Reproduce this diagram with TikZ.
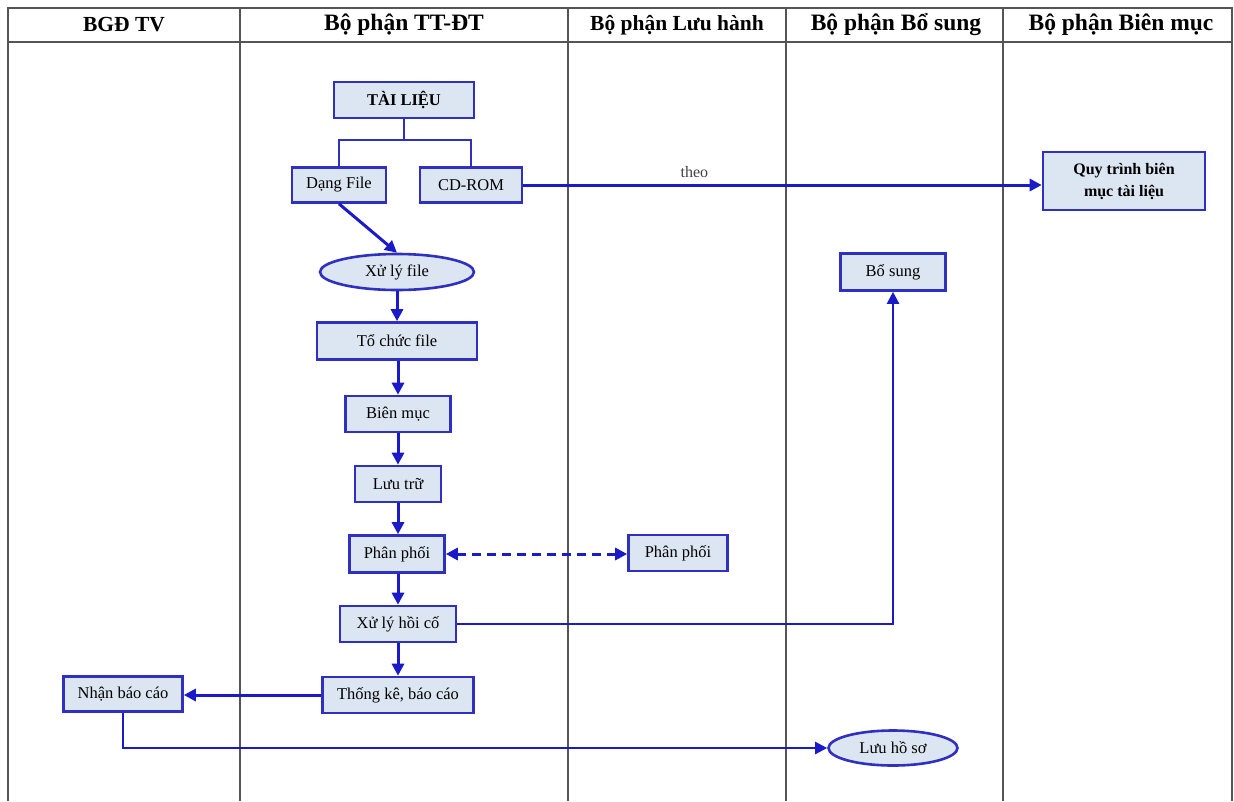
\documentclass[tikz,border=0pt]{standalone}
\usepackage{fontspec}
\setmainfont{Liberation Serif}
\usetikzlibrary{arrows.meta,shapes.geometric}
\definecolor{boxfill}{HTML}{DCE6F2}
\definecolor{boxline}{HTML}{3030C0}
\definecolor{arr}{HTML}{1A1AC8}
\definecolor{grid}{HTML}{555555}
\begin{document}
\begin{tikzpicture}[x=1pt,y=-1pt,
  pbox/.style={draw=boxline,line width=2.6pt,fill=boxfill,rectangle,inner sep=0pt,font=\fontsize{16.5}{19}\selectfont,align=center},
  pell/.style={draw=boxline,line width=2.6pt,fill=boxfill,ellipse,inner sep=0pt,font=\fontsize{16.5}{19}\selectfont},
  tip/.tip={Triangle[length=12pt,width=12pt]},
  flow/.style={draw=arr,line width=3pt,-tip},
  thin/.style={draw=boxline,line width=2pt},
  hdr/.style={font=\fontsize{23.5}{26}\selectfont\bfseries},
  gridline/.style={draw=grid,line width=2pt}]
\useasboundingbox (0,0) rectangle (1234,801);
% table
\draw[gridline] (8,801) -- (8,8) -- (1232,8) -- (1232,801);
\draw[gridline] (8,42) -- (1232,42);
\foreach \x in {240,568,786,1003} \draw[gridline] (\x,8) -- (\x,801);
\node[hdr,font=\fontsize{21.5}{24}\selectfont\bfseries] (h1) at (124,25) {BGĐ TV};
\node[hdr] (h2) at (404,25) {Bộ phận TT-ĐT};
\node[hdr,font=\fontsize{21.5}{24}\selectfont\bfseries] (h3) at (677,25) {Bộ phận Lưu hành};
\node[hdr] (h4) at (896,25) {Bộ phận Bổ sung};
\node[hdr] (h5) at (1121,25) {Bộ phận Biên mục};
% nodes
\node[pbox,minimum width=140pt,minimum height=36pt,font=\fontsize{16.5}{19}\selectfont\bfseries] (tl) at (404,100) {TÀI LIỆU};
\node[pbox,minimum width=94pt,minimum height=35pt] (df) at (339,185) {Dạng File};
\node[pbox,minimum width=102pt,minimum height=35pt] (cd) at (471,185) {CD-ROM};
\node[pbox,minimum width=162pt,minimum height=58pt,font=\fontsize{16}{22}\selectfont\bfseries] (qt) at (1124,181) {Quy trình biên\\mục tài liệu};
\node[pell,minimum width=154pt,minimum height=36pt] (xf) at (397,272) {Xử lý file};
\node[pbox,minimum width=160pt,minimum height=37pt] (tc) at (397,341) {Tổ chức file};
\node[pbox,minimum width=105pt,minimum height=36pt] (bm) at (398,414) {Biên mục};
\node[pbox,minimum width=86pt,minimum height=36pt] (lt) at (398,484) {Lưu trữ};
\node[pbox,minimum width=95pt,minimum height=37pt] (pp) at (397,554) {Phân phối};
\node[pbox,minimum width=99pt,minimum height=36pt] (pp2) at (678,553) {Phân phối};
\node[pbox,minimum width=116pt,minimum height=36pt] (xh) at (398,624) {Xử lý hồi cố};
\node[pbox,minimum width=105pt,minimum height=37pt] (bs) at (893,272) {Bổ sung};
\node[pbox,minimum width=151pt,minimum height=36pt] (tk) at (398,695) {Thống kê, báo cáo};
\node[pbox,minimum width=119pt,minimum height=35pt] (nb) at (123,694) {Nhận báo cáo};
\node[pell,minimum width=129pt,minimum height=35pt] (lh) at (893,748) {Lưu hồ sơ};
% connectors
\coordinate (j) at (404,140);
\draw[thin] (tl.south) -- (j);
\draw[thin] (df.north) |- (j) -| (cd.north);
\draw[flow] (cd.east) -- node[pos=0.33,above=3pt,font=\fontsize{16}{18}\selectfont,text=black!75] (theo) {theo} (cd.east -| qt.west);
\draw[flow] (df.south) -- (xf.north);
\draw[flow] (xf.south) -- (xf.south |- tc.north);
\draw[flow] (bm.north |- tc.south) -- (bm.north);
\draw[flow] (bm.south) -- (bm.south |- lt.north);
\draw[flow] (lt.south) -- (lt.south |- pp.north);
\draw[flow] (lt.south |- pp.south) -- (lt.south |- xh.north);
\draw[flow] (xh.south) -- (tk.north);
\draw[flow,dashed,dash pattern=on 9pt off 6pt,tip-tip] (pp.east) -- (pp.east -| pp2.west);
\draw[flow,line width=2.2pt] (xh.east) -| (bs.south);
\draw[flow] (tk.west) -- (tk.west -| nb.east);
\draw[flow,line width=2.2pt] (nb.south) |- (lh.west);
\end{tikzpicture}
\end{document}
